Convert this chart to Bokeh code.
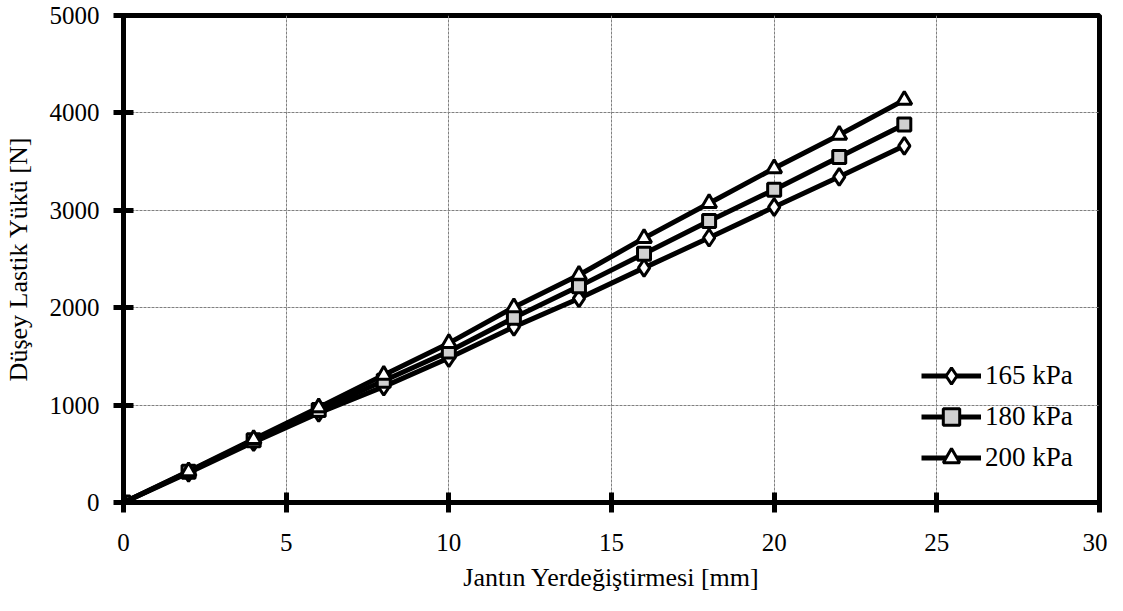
from bokeh.plotting import figure
from bokeh.models import Range1d, SingleIntervalTicker, Legend, LegendItem
from bokeh.embed import file_html
from bokeh.resources import INLINE

# ---- data ----
displacement_mm = [0, 2, 4, 6, 8, 10, 12, 14, 16, 18, 20, 22, 24]
load_165kpa = [0, 305, 620, 920, 1190, 1483, 1803, 2095, 2409, 2718, 3033, 3344, 3662]
load_180kpa = [0, 315, 640, 950, 1250, 1551, 1896, 2219, 2554, 2890, 3212, 3547, 3881]
load_200kpa = [0, 320, 650, 975, 1310, 1636, 2004, 2336, 2714, 3073, 3431, 3774, 4132]
series_labels = ["165 kPa", "180 kPa", "200 kPa"]
x_title = "Jantın Yerdeğiştirmesi [mm]"
y_title = "Düşey Lastik Yükü [N]"

FONT = "Liberation Serif"

p = figure(width=1107, height=595, output_backend="svg", toolbar_location=None,
           x_range=Range1d(0, 30), y_range=Range1d(0, 5000),
           min_border_left=120, min_border_right=8, min_border_top=15,
           min_border_bottom=93)

p.background_fill_color = "white"
p.border_fill_color = "white"
p.outline_line_color = "black"
p.outline_line_width = 5

for ax in (p.xaxis[0], p.yaxis[0]):
    ax.axis_line_width = 5
    ax.axis_line_color = "black"
    ax.major_tick_line_width = 5
    ax.major_tick_line_color = "black"
    ax.major_tick_in = 10
    ax.major_tick_out = 10
    ax.minor_tick_line_color = None
    ax.major_label_text_font = FONT
    ax.major_label_text_font_size = "25px"
    ax.major_label_text_color = "black"
    ax.axis_label_text_font = FONT
    ax.axis_label_text_font_size = "26px"
    ax.axis_label_text_font_style = "normal"
    ax.axis_label_text_color = "black"

p.xaxis[0].ticker = SingleIntervalTicker(interval=5, num_minor_ticks=0)
p.yaxis[0].ticker = SingleIntervalTicker(interval=1000, num_minor_ticks=0)
p.xaxis[0].major_label_standoff = 21
p.yaxis[0].major_label_standoff = 14
p.xaxis[0].axis_label = x_title
p.yaxis[0].axis_label = y_title
p.xaxis[0].axis_label_standoff = 9
p.yaxis[0].axis_label_standoff = 14

p.xgrid.grid_line_color = "#808080"
p.ygrid.grid_line_color = "#808080"
p.xgrid.grid_line_width = 1
p.ygrid.grid_line_width = 1
p.xgrid.grid_line_dash = "3 1"
p.ygrid.grid_line_dash = "3 1"

items = []
specs = [
    (load_165kpa, "diamond", "white", 17),
    (load_180kpa, "square", "#d0d0d0", 13),
    (load_200kpa, "triangle", "white", 15),
]
for (ys, marker, fill, size), lab in zip(specs, series_labels):
    ln = p.line(displacement_mm, ys, line_color="black", line_width=5)
    sc = p.scatter(displacement_mm, ys, marker=marker, size=size,
                   fill_color=fill, line_color="black", line_width=3)
    items.append(LegendItem(label=lab, renderers=[ln, sc]))

legend = Legend(items=items, location=(798, 24))
legend.border_line_color = None
legend.background_fill_alpha = 0
legend.padding = 0
legend.spacing = 0
legend.margin = 0
legend.glyph_width = 60
legend.glyph_height = 41
legend.label_height = 41
legend.label_standoff = 4
legend.label_text_font = FONT
legend.label_text_font_size = "27px"
legend.label_text_color = "black"
p.add_layout(legend, "center")

open("out.html", "w").write(file_html(p, INLINE))
